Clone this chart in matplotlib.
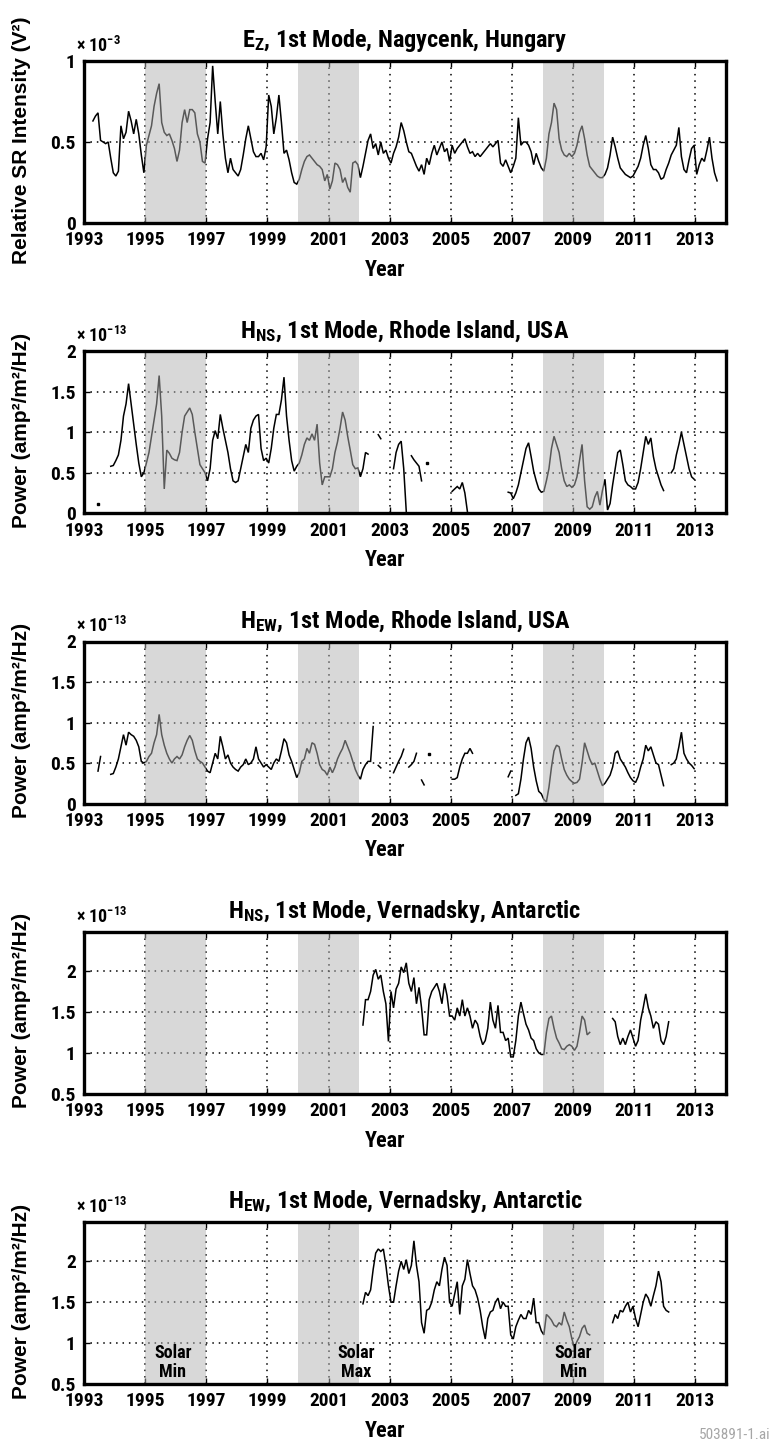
import numpy as np
import matplotlib
matplotlib.use('Agg')
import matplotlib.pyplot as plt
from matplotlib.ticker import FuncFormatter, FixedLocator

N = np.nan
NARROW = ['Roboto Condensed', 'Liberation Sans', 'DejaVu Sans']
WIDE = ['Liberation Sans', 'DejaVu Sans']

# ---------------- data (monthly values, one row per year) ----------------
x_ticks = list(range(1993, 2014, 2))
solar_bands = [(1995, 1997), (2000, 2002), (2008, 2010)]
solar_label_x = [1995.9, 2001.9, 2009.0]
solar_label_text = ['Solar\nMin', 'Solar\nMax', 'Solar\nMin']

# Ez 1st mode, Nagycenk (x 1e-3 V^2), from 1993
ez_nagycenk_first_year = 1993
ez_nagycenk = [
    [N, N, N, 0.63, 0.66, 0.68, 0.51, 0.50, 0.49, 0.50, 0.40, 0.31],
    [0.29, 0.32, 0.60, 0.52, 0.56, 0.69, 0.63, 0.55, 0.64, 0.55, 0.42, 0.31],
    [0.48, 0.54, 0.60, 0.72, 0.80, 0.86, 0.62, 0.56, 0.54, 0.55, 0.51, 0.46],
    [0.38, 0.45, 0.62, 0.70, 0.62, 0.70, 0.70, 0.68, 0.55, 0.50, 0.38, 0.37],
    [0.52, 0.62, 0.97, 0.75, 0.55, 0.75, 0.55, 0.40, 0.31, 0.40, 0.33, 0.31],
    [0.29, 0.33, 0.42, 0.52, 0.60, 0.52, 0.44, 0.41, 0.41, 0.43, 0.39, 0.47],
    [0.79, 0.72, 0.55, 0.65, 0.79, 0.62, 0.43, 0.45, 0.39, 0.31, 0.25, 0.24],
    [0.27, 0.33, 0.38, 0.41, 0.42, 0.40, 0.38, 0.36, 0.35, 0.33, 0.26, 0.30],
    [0.21, 0.26, 0.37, 0.36, 0.33, 0.25, 0.28, 0.22, 0.19, 0.37, 0.38, 0.36],
    [0.28, 0.35, 0.43, 0.51, 0.55, 0.46, 0.49, 0.42, 0.50, 0.43, 0.45, 0.40],
    [0.37, 0.43, 0.47, 0.53, 0.62, 0.57, 0.50, 0.44, 0.43, 0.39, 0.35, 0.32],
    [0.36, 0.30, 0.40, 0.36, 0.43, 0.48, 0.42, 0.46, 0.50, 0.44, 0.46, 0.38],
    [0.48, 0.43, 0.46, 0.48, 0.50, 0.52, 0.47, 0.43, 0.44, 0.41, 0.43, 0.41],
    [0.43, 0.45, 0.47, 0.49, 0.47, 0.49, 0.51, 0.37, 0.35, 0.39, 0.35, 0.31],
    [0.35, 0.40, 0.65, 0.48, 0.50, 0.50, 0.48, 0.44, 0.36, 0.43, 0.38, 0.34],
    [0.32, 0.40, 0.55, 0.62, 0.74, 0.70, 0.52, 0.45, 0.42, 0.41, 0.43, 0.41],
    [0.43, 0.48, 0.56, 0.60, 0.52, 0.42, 0.35, 0.33, 0.31, 0.29, 0.28, 0.28],
    [0.30, 0.34, 0.42, 0.53, 0.47, 0.40, 0.34, 0.32, 0.30, 0.29, 0.28, 0.29],
    [0.32, 0.35, 0.40, 0.48, 0.54, 0.46, 0.36, 0.33, 0.33, 0.31, 0.27, 0.28],
    [0.33, 0.37, 0.42, 0.45, 0.48, 0.59, 0.41, 0.33, 0.31, 0.39, 0.46, 0.48],
    [0.30, 0.36, 0.40, 0.38, 0.45, 0.53, 0.40, 0.31, 0.26, N, N, N],
]

# Hns 1st mode, Rhode Island (x 1e-13 amp^2/m^2/Hz), from 1993
hns_rhode_first_year = 1993
hns_rhode = [
    [N, N, N, N, N, 0.12, N, N, N, N, 0.58, 0.59],
    [0.65, 0.72, 0.90, 1.20, 1.35, 1.60, 1.35, 1.10, 0.85, 0.62, 0.45, 0.50],
    [0.62, 0.75, 0.95, 1.15, 1.35, 1.70, 1.20, 0.30, 0.78, 0.74, 0.68, 0.66],
    [0.65, 0.75, 1.00, 1.20, 1.25, 1.30, 1.22, 1.00, 0.80, 0.60, 0.55, 0.50],
    [0.40, 0.55, 0.90, 1.02, 0.92, 1.22, 1.05, 0.90, 0.75, 0.55, 0.40, 0.38],
    [0.40, 0.55, 0.70, 0.85, 0.75, 1.05, 1.15, 1.20, 1.22, 0.80, 0.65, 0.68],
    [0.62, 0.80, 1.05, 1.22, 1.22, 1.40, 1.68, 1.20, 0.90, 0.65, 0.52, 0.58],
    [0.62, 0.72, 0.85, 0.93, 0.90, 0.98, 0.90, 1.10, 0.62, 0.35, 0.45, 0.45],
    [0.45, 0.55, 0.75, 0.88, 1.05, 1.25, 1.15, 0.95, 0.78, 0.60, 0.55, 0.56],
    [0.45, 0.55, 0.75, 0.73, N, N, N, 0.97, 0.92, N, N, N],
    [N, 0.55, 0.75, 0.85, 0.89, 0.55, 0.02, N, 0.71, 0.66, 0.62, 0.58],
    [0.40, N, 0.62, N, N, N, N, N, N, N, N, N],
    [0.27, 0.30, 0.33, 0.30, 0.38, 0.25, 0.02, N, N, N, N, N],
    [N, N, N, N, N, N, N, N, N, N, 0.26, 0.25],
    [0.18, 0.25, 0.35, 0.50, 0.65, 0.80, 0.87, 0.70, 0.52, 0.40, 0.30, 0.26],
    [0.27, 0.40, 0.55, 0.80, 0.95, 0.85, 0.75, 0.55, 0.40, 0.33, 0.35, 0.32],
    [0.35, 0.45, 0.65, 0.85, 0.40, 0.08, 0.05, 0.08, 0.20, 0.27, 0.10, 0.28],
    [0.42, 0.04, 0.12, 0.35, 0.55, 0.75, 0.78, 0.60, 0.40, 0.35, 0.33, 0.30],
    [0.30, 0.38, 0.55, 0.75, 0.95, 0.85, 0.93, 0.70, 0.55, 0.45, 0.35, 0.28],
    [N, N, 0.50, 0.55, 0.72, 0.85, 1.00, 0.85, 0.70, 0.55, 0.45, 0.42],
]

# Hew 1st mode, Rhode Island (x 1e-13), from 1993
hew_rhode_first_year = 1993
hew_rhode = [
    [N, N, N, N, N, 0.40, 0.58, N, N, N, 0.36, 0.37],
    [0.45, 0.55, 0.70, 0.85, 0.72, 0.88, 0.85, 0.83, 0.78, 0.70, 0.52, 0.50],
    [0.52, 0.58, 0.62, 0.75, 0.85, 1.10, 0.85, 0.72, 0.62, 0.55, 0.50, 0.55],
    [0.58, 0.55, 0.60, 0.70, 0.78, 0.84, 0.78, 0.65, 0.55, 0.52, 0.50, 0.45],
    [0.40, 0.38, 0.50, 0.62, 0.55, 0.83, 0.70, 0.55, 0.60, 0.50, 0.45, 0.42],
    [0.40, 0.45, 0.48, 0.55, 0.48, 0.50, 0.55, 0.70, 0.55, 0.50, 0.45, 0.48],
    [0.45, 0.42, 0.50, 0.55, 0.52, 0.65, 0.80, 0.75, 0.60, 0.52, 0.42, 0.32],
    [0.38, 0.52, 0.55, 0.68, 0.62, 0.75, 0.73, 0.62, 0.48, 0.42, 0.40, 0.35],
    [0.45, 0.38, 0.45, 0.55, 0.62, 0.68, 0.78, 0.70, 0.62, 0.52, 0.42, 0.35],
    [0.30, 0.42, 0.48, 0.52, 0.52, 0.95, N, 0.47, 0.44, N, N, N],
    [N, 0.38, 0.45, 0.52, 0.58, 0.67, N, 0.45, 0.48, 0.52, 0.62, N],
    [0.29, 0.23, N, 0.61, N, N, N, N, N, N, N, N],
    [0.30, 0.30, 0.32, 0.45, 0.55, 0.62, 0.62, 0.68, 0.62, N, N, N],
    [N, N, N, N, N, N, N, N, N, N, 0.33, 0.40],
    [N, 0.10, 0.12, 0.30, 0.55, 0.75, 0.82, 0.68, 0.45, 0.28, 0.15, 0.12],
    [0.05, 0.02, 0.20, 0.45, 0.65, 0.72, 0.70, 0.55, 0.42, 0.35, 0.30, 0.27],
    [0.25, 0.26, 0.30, 0.50, 0.75, 0.65, 0.55, 0.48, 0.50, 0.40, 0.30, 0.22],
    [0.25, 0.30, 0.35, 0.45, 0.62, 0.65, 0.55, 0.50, 0.45, 0.38, 0.32, 0.28],
    [0.26, 0.33, 0.45, 0.55, 0.72, 0.65, 0.70, 0.60, 0.50, 0.48, 0.35, 0.22],
    [N, N, 0.48, 0.50, 0.55, 0.70, 0.88, 0.62, 0.55, 0.50, 0.47, 0.43],
]

# Hns 1st mode, Vernadsky (x 1e-13), from 2002
hns_vern_first_year = 2002
hns_vern = [
    [N, 1.34, 1.65, 1.65, 1.75, 1.95, 2.02, 1.90, 1.95, 1.75, 1.60, 1.14],
    [1.75, 1.55, 1.78, 1.85, 2.05, 1.98, 2.10, 1.85, 1.75, 1.92, 1.60, 1.80],
    [1.55, 1.22, 1.22, 1.65, 1.75, 1.80, 1.85, 1.75, 1.60, 1.85, 1.70, 1.45],
    [1.45, 1.40, 1.55, 1.45, 1.65, 1.45, 1.55, 1.45, 1.30, 1.40, 1.35, 1.20],
    [1.10, 1.15, 1.30, 1.62, 1.40, 1.30, 1.58, 1.25, 1.25, 1.15, 1.18, 0.95],
    [0.95, 1.15, 1.45, 1.62, 1.48, 1.35, 1.28, 1.18, 1.15, 1.05, 1.00, 0.98],
    [0.98, 1.25, 1.42, 1.45, 1.30, 1.18, 1.12, 1.05, 1.04, 1.08, 1.10, 1.08],
    [1.03, 1.08, 1.25, 1.45, 1.40, 1.22, 1.25, N, N, N, N, N],
    [N, N, N, 1.42, 1.38, 1.20, 1.10, 1.18, 1.10, 1.20, 1.28, 1.18],
    [1.08, 1.15, 1.40, 1.55, 1.72, 1.55, 1.45, 1.30, 1.38, 1.35, 1.15, 1.10],
    [1.20, 1.38, N, N, N, N, N, N, N, N, N, N],
]

# Hew 1st mode, Vernadsky (x 1e-13), from 2002
hew_vern_first_year = 2002
hew_vern = [
    [N, 1.48, 1.62, 1.58, 1.65, 1.90, 2.10, 2.15, 2.12, 2.15, 1.95, 1.70],
    [1.50, 1.50, 1.70, 1.88, 2.00, 1.90, 2.02, 1.85, 1.95, 2.25, 1.95, 1.75],
    [1.25, 1.12, 1.40, 1.42, 1.50, 1.65, 1.75, 1.70, 1.90, 2.05, 1.95, 1.50],
    [1.45, 1.60, 1.75, 1.35, 1.70, 1.78, 2.02, 1.85, 1.70, 1.65, 1.55, 1.40],
    [1.20, 1.05, 1.30, 1.38, 1.40, 1.50, 1.55, 1.42, 1.50, 1.45, 1.45, 1.10],
    [1.05, 1.20, 1.28, 1.35, 1.30, 1.30, 1.40, 1.35, 1.55, 1.25, 1.25, 1.15],
    [1.10, 1.35, 1.32, 1.28, 1.22, 1.20, 1.25, 1.22, 1.38, 1.28, 1.20, 1.05],
    [0.95, 1.02, 1.08, 1.18, 1.22, 1.12, 1.10, N, N, N, N, N],
    [N, N, N, 1.25, 1.35, 1.30, 1.40, 1.38, 1.45, 1.50, 1.38, 1.45],
    [1.30, 1.20, 1.35, 1.50, 1.60, 1.55, 1.45, 1.58, 1.70, 1.88, 1.75, 1.45],
    [1.40, 1.38, N, N, N, N, N, N, N, N, N, N],
]

titles = [
    r'$\mathregular{E_Z}$, 1st Mode, Nagycenk, Hungary',
    r'$\mathregular{H_{NS}}$, 1st Mode, Rhode Island, USA',
    r'$\mathregular{H_{EW}}$, 1st Mode, Rhode Island, USA',
    r'$\mathregular{H_{NS}}$, 1st Mode, Vernadsky, Antarctic',
    r'$\mathregular{H_{EW}}$, 1st Mode, Vernadsky, Antarctic',
]
ylabels = ['Relative SR Intensity (V²)'] + ['Power (amp²/m²/Hz)'] * 4
exponents = ['-3', '-13', '-13', '-13', '-13']
series = [ez_nagycenk, hns_rhode, hew_rhode, hns_vern, hew_vern]
first_years = [ez_nagycenk_first_year, hns_rhode_first_year, hew_rhode_first_year,
               hns_vern_first_year, hew_vern_first_year]
ylims = [(0, 1), (0, 2), (0, 2), (0.5, 2.48), (0.5, 2.48)]
yticks = [[0, 0.5, 1], [0, 0.5, 1, 1.5, 2], [0, 0.5, 1, 1.5, 2],
          [0.5, 1, 1.5, 2], [0.5, 1, 1.5, 2]]

# ---------------- figure ----------------
plt.rcParams['font.family'] = NARROW
plt.rcParams['font.weight'] = 'bold'
plt.rcParams['mathtext.default'] = 'regular'

W, H = 772, 1444
fig = plt.figure(figsize=(W / 100, H / 100), dpi=100)
fig.patch.set_facecolor('white')

ax_left, ax_w, ax_h = 84, 642, 162
tops = [61 + 290.25 * i for i in range(5)]

for i in range(5):
    top = tops[i]
    ax = fig.add_axes([ax_left / W, 1 - (top + ax_h) / H, ax_w / W, ax_h / H])
    vals = np.array(series[i], dtype=float).ravel()
    t = first_years[i] + (np.arange(vals.size) + 0.5) / 12.0
    ax.plot(t, vals, color='black', lw=1.1, zorder=2, solid_joinstyle='miter')
    # isolated single samples
    fin = np.isfinite(vals)
    prev = np.r_[False, fin[:-1]]
    nxt = np.r_[fin[1:], False]
    iso = fin & ~prev & ~nxt
    if iso.any():
        ax.plot(t[iso], vals[iso], ls='none', marker='s', ms=1.6,
                color='black', zorder=2)
    for a, b in solar_bands:
        ax.axvspan(a, b, facecolor=(0.70, 0.70, 0.70), alpha=0.5, lw=0, zorder=3)

    ax.set_xlim(1993, 2014)
    ax.set_ylim(*ylims[i])
    ax.xaxis.set_major_locator(FixedLocator(x_ticks))
    ax.yaxis.set_major_locator(FixedLocator(yticks[i]))
    ax.yaxis.set_major_formatter(FuncFormatter(lambda v, _: f'{v:g}'))
    ax.set_axisbelow(True)
    ax.grid(True, color='black', ls=(0, (1, 3.2)), lw=1.1)
    ax.tick_params(direction='in', length=4, width=1, top=True, right=True,
                   labelsize=14, pad=6)
    for s in ax.spines.values():
        s.set_linewidth(2.4)
        s.set_zorder(6)

    ax.set_title(titles[i], fontsize=17.5, fontweight='bold', pad=10)

    fig.text(76 / W, 1 - (top - 9) / H, '× 10$^{' + exponents[i] + '}$',
             fontsize=13, fontweight='bold', ha='left', va='baseline')
    fig.text(22 / W, 1 - (top + ax_h / 2 - 2) / H, ylabels[i], family=WIDE,
             fontsize=15, fontweight='bold', rotation=90, ha='center', va='center')
    fig.text(385 / W, 1 - (top + 209) / H, 'Year', fontsize=16,
             fontweight='bold', ha='center', va='center')

    if i == 4:
        for xs, txt in zip(solar_label_x, solar_label_text):
            ax.text(xs, 0.76, txt, fontsize=13, fontweight='bold', ha='center',
                    va='center', linespacing=1.1, zorder=4)

fig.text(771 / W, 1 - 1439 / H, '503891-1.ai', fontsize=11, fontweight='normal',
         color='#a6a6a6', ha='right', va='baseline')

fig.savefig('out.png', dpi=100, facecolor='white')
